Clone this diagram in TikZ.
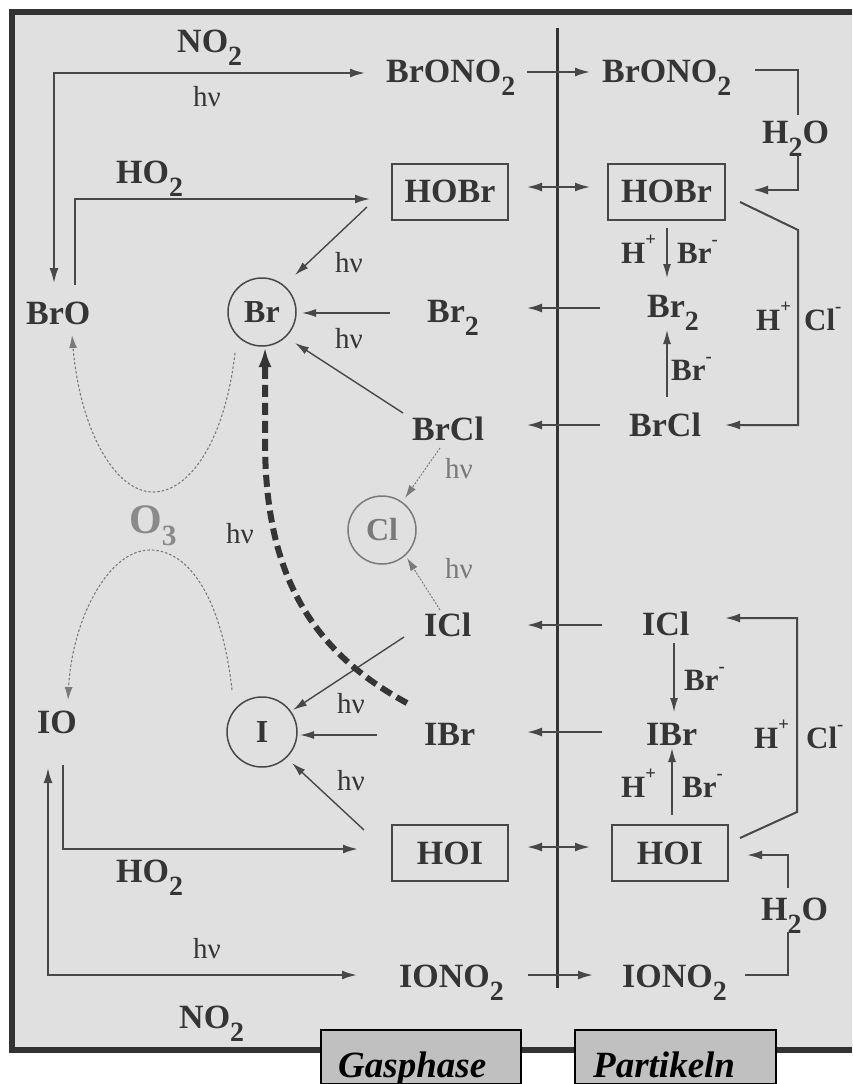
\documentclass[tikz,border=0pt]{standalone}
\usepackage{fontspec}
\usepackage{graphicx}
\setmainfont{Liberation Serif}
\usetikzlibrary{arrows.meta}
\definecolor{bg}{HTML}{E0E0E0}
\definecolor{frm}{HTML}{333333}
\definecolor{ink}{HTML}{353535}
\definecolor{lin}{HTML}{484848}
\definecolor{lgray}{HTML}{7A7A7A}
\definecolor{ogray}{HTML}{8A8A8A}
\definecolor{tab}{HTML}{C0C0C0}
\newcommand\subs[1]{\raisebox{-0.4em}{\scalebox{0.82}{#1}}}
\newcommand\sups[1]{\raisebox{0.55em}{\scalebox{0.6}{#1}}}
\begin{document}
\begin{tikzpicture}[x=1pt,y=-1pt,
  sp/.style={inner sep=0pt, font=\fontsize{34}{38}\selectfont\bfseries, text=ink, anchor=base west},
  lb/.style={inner sep=0pt, font=\fontsize{31}{34}\selectfont\bfseries, text=ink, anchor=base west},
  hv/.style={inner sep=0pt, font=\fontsize{29}{32}\selectfont, text=ink, anchor=base west},
  boxn/.style={draw=lin, line width=2pt, minimum width=116pt, minimum height=56pt, inner sep=0pt, font=\fontsize{34}{38}\selectfont\bfseries, text=ink},
  circ/.style={circle, draw=lin, line width=1.5pt, minimum size=68pt, inner sep=0pt, font=\fontsize{32}{34}\selectfont\bfseries, text=ink},
  ar/.style={draw=lin, line width=2pt, -{Latex[length=15pt,width=9pt]}},
  dar/.style={draw=lin, line width=2pt, {Latex[length=15pt,width=9pt]}-{Latex[length=15pt,width=9pt]}},
  tarr/.style={draw=lin, line width=1.4pt, -{Latex[length=14pt,width=8pt]}},
  dotarr/.style={draw=lgray, line width=1pt, dash pattern=on 2pt off 1.5pt, -{Latex[length=13pt,width=8pt]}},
  tab/.style={fill=tab, draw=black, line width=1.5pt}
]
\useasboundingbox (0,0) rectangle (852,1084);
% frame
\fill[bg] (12,12) rectangle (852,1050);
\draw[frm, line width=6pt] (852,12) -- (12,12) -- (12,1050) -- (852,1050);
% bottom tabs
\fill[tab] (321,1030) rectangle (521,1084);
\draw[black, line width=1.5pt] (321,1084) -- (321,1030) -- (521,1030) -- (521,1084);
\fill[tab] (575,1030) rectangle (776,1084);
\draw[black, line width=1.5pt] (575,1084) -- (575,1030) -- (776,1030) -- (776,1084);
\node[inner sep=0pt, anchor=base west, font=\fontsize{37}{40}\selectfont\bfseries\itshape] (gas) at (338,1077) {Gasphase};
\node[inner sep=0pt, anchor=base west, font=\fontsize{37}{40}\selectfont\bfseries\itshape] (part) at (593,1077) {Partikeln};
% divider
\coordinate (dvt) at (557,28); \coordinate (dvb) at (557,988);
\draw[frm, line width=3pt] (dvt) -- (dvb);

% species
\node[sp] (brono2G) at (386,82) {BrONO\subs{2}};
\node[sp] (brono2P) at (602,82) {BrONO\subs{2}};
\node[boxn] (hobrG) at (450,191.5) {HOBr};
\node[boxn, minimum width=117pt] (hobrP) at (666.5,191.5) {HOBr};
\node[sp] (bro) at (26,324) {BrO};
\node[circ] (brC) at (262,312) {Br};
\node[sp] (br2G) at (427,322) {Br\subs{2}};
\node[sp] (br2P) at (647,317) {Br\subs{2}};
\node[sp] (brclG) at (412,440) {BrCl};
\node[sp] (brclP) at (629,436) {BrCl};
\node[circ, draw=lgray, text=lgray] (clC) at (382,530) {Cl};
\node[inner sep=0pt, anchor=base west, font=\fontsize{42}{44}\selectfont\bfseries, text=ogray] (o3) at (129,533) {O\raisebox{-0.3em}{\scalebox{0.7}{3}}};
\node[sp] (iclG) at (424,636) {ICl};
\node[sp] (iclP) at (642,635) {ICl};
\node[sp] (io) at (37,733) {IO};
\node[circ, minimum size=70pt] (iC) at (262,732) {I};
\node[sp] (ibrG) at (424,745) {IBr};
\node[sp] (ibrP) at (646,745) {IBr};
\node[boxn] (hoiG) at (450,853) {HOI};
\node[boxn] (hoiP) at (670,853) {HOI};
\node[sp] (iono2G) at (399,987) {IONO\subs{2}};
\node[sp] (iono2P) at (622,987) {IONO\subs{2}};

% labels
\node[sp] (no2t) at (177,52) {NO\subs{2}};
\node[hv] (hvt) at (193,106) {hν};
\node[sp] (ho2t) at (116,183) {HO\subs{2}};
\node[hv] (hva) at (335,272) {hν};
\node[hv] (hvb) at (335,348) {hν};
\node[sp] (h2ot) at (762,143) {H\subs{2}O};
\node[lb] (hp1) at (621,263) {H\sups{+}};
\node[lb] (brm1) at (677,263) {Br\sups{-}};
\node[lb] (brm2) at (671,380) {Br\sups{-}};
\node[lb] (hp2) at (756,330) {H\sups{+}};
\node[lb] (clm1) at (804,330) {Cl\sups{-}};
\node[hv, text=lgray] (hvc) at (445,478) {hν};
\node[hv, text=lgray] (hvd) at (445,578) {hν};
\node[hv] (hve) at (226,543) {hν};
\node[hv] (hvf) at (337,713) {hν};
\node[hv] (hvg) at (337,790) {hν};
\node[lb] (brm3) at (684,690) {Br\sups{-}};
\node[lb] (hp3) at (754,748) {H\sups{+}};
\node[lb] (clm2) at (806,748) {Cl\sups{-}};
\node[lb] (hp4) at (621,797) {H\sups{+}};
\node[lb] (brm4) at (682,797) {Br\sups{-}};
\node[sp] (h2ob) at (761,920) {H\subs{2}O};
\node[sp] (ho2b) at (116,882) {HO\subs{2}};
\node[hv] (hvh) at (193,958) {hν};
\node[sp] (no2b) at (179,1028) {NO\subs{2}};

% gas-phase connectors
\coordinate (n1) at (365,73); \coordinate (n1c) at (54,73); \coordinate (n1e) at (54,283);
\draw[dar] (n1e) -- (n1c) -- (n1);
\coordinate (h1s) at (75,285); \coordinate (h1c) at (75,199); \coordinate (h1e) at (370,199);
\draw[ar] (h1s) -- (h1c) -- (h1e);
\coordinate (p1s) at (367,207); \coordinate (p1e) at (295,275);
\draw[tarr] (p1s) -- (p1e);
\coordinate (p2s) at (390,313); \coordinate (p2e) at (302,313);
\draw[tarr] (p2s) -- (p2e);
\coordinate (p3s) at (403,413); \coordinate (p3e) at (295,343);
\draw[tarr] (p3s) -- (p3e);
\coordinate (p4s) at (440,448); \coordinate (p4e) at (405,498);
\draw[dotarr] (p4s) -- (p4e);
\coordinate (p5s) at (440,610); \coordinate (p5e) at (407,558);
\draw[dotarr] (p5s) -- (p5e);
\coordinate (p6s) at (404,637); \coordinate (p6e) at (293,710);
\draw[tarr] (p6s) -- (p6e);
\coordinate (p7s) at (377,735); \coordinate (p7e) at (300,735);
\draw[tarr] (p7s) -- (p7e);
\coordinate (p8s) at (364,830); \coordinate (p8e) at (292,763);
\draw[tarr] (p8s) -- (p8e);
\coordinate (h2s) at (63,765); \coordinate (h2c) at (63,849); \coordinate (h2e) at (358,849);
\draw[ar] (h2s) -- (h2c) -- (h2e);
\coordinate (n2s) at (48,768); \coordinate (n2c) at (48,975); \coordinate (n2e) at (357,975);
\draw[dar] (n2s) -- (n2c) -- (n2e);

% O3 curves
\coordinate (o3a) at (235,353); \coordinate (o3b) at (72,335);
\draw[dotarr, line width=1.1pt, dash pattern=on 2.5pt off 2pt] (o3a) .. controls (225,440) and (190,492) .. (153,492) .. controls (115,492) and (80,430) .. (o3b);
\coordinate (o3c) at (232,690); \coordinate (o3d) at (68,700);
\draw[dotarr, line width=1.1pt, dash pattern=on 2.5pt off 2pt] (o3c) .. controls (222,600) and (190,550) .. (150,550) .. controls (108,550) and (72,620) .. (o3d);

% thick dashed arrow IBr -> Br
\coordinate (dsh) at (407,703); \coordinate (dsm) at (265,440); \coordinate (dse) at (265,347);
\draw[draw=ink, line width=6pt, dash pattern=on 12pt off 6pt, -{Latex[length=20pt,width=13pt]}] (dsh) .. controls (300,645) and (265,560) .. (dsm) -- (dse);

% gas-particle exchange
\coordinate (g1a) at (527,72); \coordinate (g1b) at (590,72);
\draw[ar] (g1a) -- (g1b);
\coordinate (g2a) at (527,187); \coordinate (g2b) at (590,187);
\draw[dar] (g2a) -- (g2b);
\coordinate (g3a) at (600,308); \coordinate (g3b) at (527,308);
\draw[ar] (g3a) -- (g3b);
\coordinate (g4a) at (600,425); \coordinate (g4b) at (527,425);
\draw[ar] (g4a) -- (g4b);
\coordinate (g5a) at (602,625); \coordinate (g5b) at (527,625);
\draw[ar] (g5a) -- (g5b);
\coordinate (g6a) at (602,732); \coordinate (g6b) at (527,732);
\draw[ar] (g6a) -- (g6b);
\coordinate (g7a) at (527,847); \coordinate (g7b) at (590,847);
\draw[dar] (g7a) -- (g7b);
\coordinate (g8a) at (528,975); \coordinate (g8b) at (593,975);
\draw[ar] (g8a) -- (g8b);

% particle phase
\coordinate (q1s) at (667,228); \coordinate (q1e) at (667,278);
\draw[tarr] (q1s) -- (q1e);
\coordinate (q2s) at (667,397); \coordinate (q2e) at (667,330);
\draw[tarr] (q2s) -- (q2e);
\coordinate (r1s) at (740,202); \coordinate (r1a) at (798,230); \coordinate (r1b) at (798,425); \coordinate (r1e) at (725,425);
\draw[ar] (r1s) -- (r1a) -- (r1b) -- (r1e);
\coordinate (w1s) at (755,70); \coordinate (w1a) at (798,70); \coordinate (w1b) at (798,115);
\draw[draw=lin, line width=2pt] (w1s) -- (w1a) -- (w1b);
\coordinate (w1c) at (798,155); \coordinate (w1d) at (798,190); \coordinate (w1e) at (753,190);
\draw[ar] (w1c) -- (w1d) -- (w1e);
\coordinate (q3s) at (674,643); \coordinate (q3e) at (674,712);
\draw[tarr] (q3s) -- (q3e);
\coordinate (q4s) at (672,815); \coordinate (q4e) at (672,748);
\draw[tarr] (q4s) -- (q4e);
\coordinate (r2s) at (740,838); \coordinate (r2a) at (797,812); \coordinate (r2b) at (797,618); \coordinate (r2e) at (725,618);
\draw[ar] (r2s) -- (r2a) -- (r2b) -- (r2e);
\coordinate (w2s) at (745,975); \coordinate (w2a) at (788,975); \coordinate (w2b) at (788,932);
\draw[draw=lin, line width=2pt] (w2s) -- (w2a) -- (w2b);
\coordinate (w2c) at (788,888); \coordinate (w2d) at (788,855); \coordinate (w2e) at (747,855);
\draw[ar] (w2c) -- (w2d) -- (w2e);
\end{tikzpicture}
\end{document}
